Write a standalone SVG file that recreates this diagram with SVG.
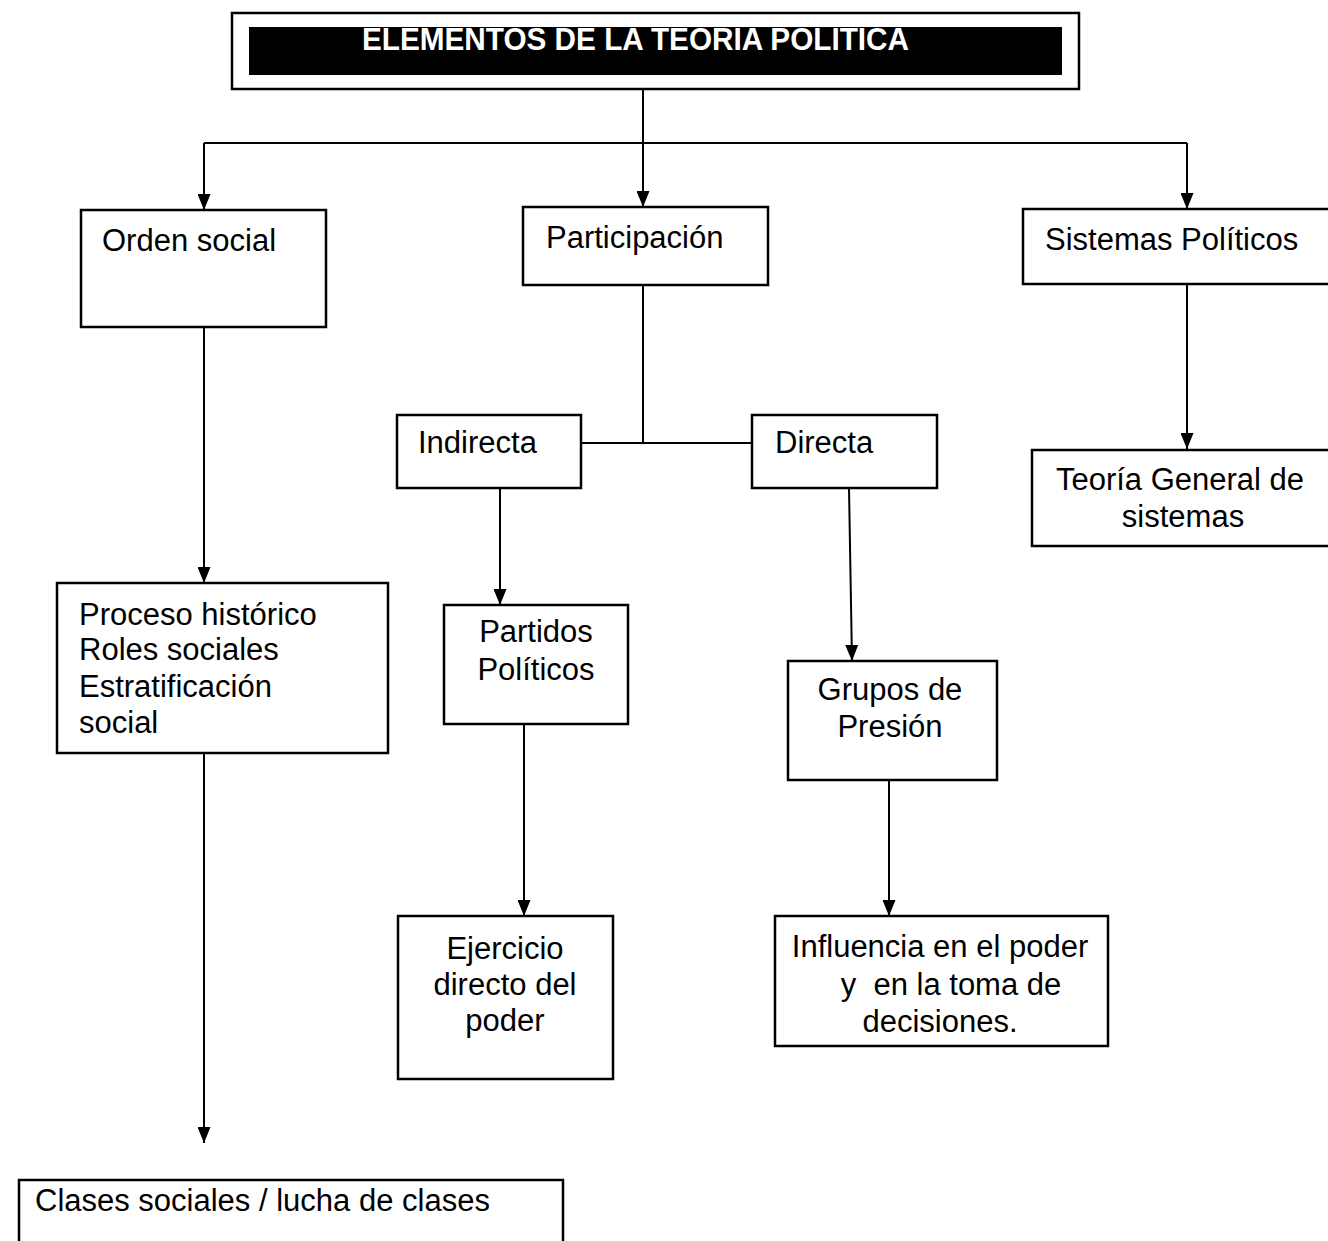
<svg xmlns="http://www.w3.org/2000/svg" width="1328" height="1241" viewBox="0 0 1328 1241">
<style>
.box{fill:#fff;stroke:#000;stroke-width:2.5}
.t{font-family:"Liberation Sans",Arial,sans-serif;font-size:31px;fill:#000}
.c{text-anchor:middle}
.ln{fill:none;stroke:#000;stroke-width:2}
</style>
<defs>
<marker id="ah" viewBox="0 0 16 13" refX="16" refY="6.5" markerWidth="16" markerHeight="13" markerUnits="userSpaceOnUse" orient="auto">
<path d="M0,0 L16,6.5 L0,13 z" fill="#000"/>
</marker>
</defs>
<rect width="1328" height="1241" fill="#fff"/>
<g id="connectors">
<path class="ln" d="M643,89 V143"/>
<path class="ln" d="M204,143 H1187"/>
<path class="ln" d="M204,143 V210" marker-end="url(#ah)"/>
<path class="ln" d="M643,143 V207" marker-end="url(#ah)"/>
<path class="ln" d="M1187,143 V209" marker-end="url(#ah)"/>
<path class="ln" d="M643,285 V443"/>
<path class="ln" d="M581,443 H752"/>
<path class="ln" d="M204,327 V583" marker-end="url(#ah)"/>
<path class="ln" d="M1187,284 V449" marker-end="url(#ah)"/>
<path class="ln" d="M500,488 V605" marker-end="url(#ah)"/>
<path class="ln" d="M849,488 L852,661" marker-end="url(#ah)"/>
<path class="ln" d="M524,724 V916" marker-end="url(#ah)"/>
<path class="ln" d="M889,780 V916" marker-end="url(#ah)"/>
<path class="ln" d="M204,753 V1143" marker-end="url(#ah)"/>
</g>
<g id="title">
<rect class="box" x="232" y="13" width="847" height="76"/>
<rect x="249" y="27" width="813" height="48" fill="#000"/>
<text x="362" y="50" font-family="'Liberation Sans Narrow','Liberation Sans',Arial,sans-serif" font-weight="bold" font-size="31" fill="#fff" textLength="547" lengthAdjust="spacingAndGlyphs">ELEMENTOS DE LA TEORIA POLITICA</text>
</g>
<g id="orden">
<rect class="box" x="81" y="210" width="245" height="117"/>
<text class="t" x="102" y="251">Orden social</text>
</g>
<g id="participacion">
<rect class="box" x="523" y="207" width="245" height="78"/>
<text class="t" x="546" y="248">Participación</text>
</g>
<g id="sistemas">
<rect class="box" x="1023" y="209" width="320" height="75"/>
<text class="t" x="1045" y="250">Sistemas Políticos</text>
</g>
<g id="teoria">
<rect class="box" x="1032" y="450" width="320" height="96"/>
<text class="t c" x="1180" y="490">Teoría General de</text>
<text class="t c" x="1183" y="527">sistemas</text>
</g>
<g id="indirecta">
<rect class="box" x="397" y="415" width="184" height="73"/>
<text class="t" x="418" y="453">Indirecta</text>
</g>
<g id="directa">
<rect class="box" x="752" y="415" width="185" height="73"/>
<text class="t" x="775" y="453">Directa</text>
</g>
<g id="proceso">
<rect class="box" x="57" y="583" width="331" height="170"/>
<text class="t" x="79" y="625">Proceso histórico</text>
<text class="t" x="79" y="660">Roles sociales</text>
<text class="t" x="79" y="697">Estratificación</text>
<text class="t" x="79" y="733">social</text>
</g>
<g id="partidos">
<rect class="box" x="444" y="605" width="184" height="119"/>
<text class="t c" x="536" y="642">Partidos</text>
<text class="t c" x="536" y="680">Políticos</text>
</g>
<g id="grupos">
<rect class="box" x="788" y="661" width="209" height="119"/>
<text class="t c" x="890" y="700">Grupos de</text>
<text class="t c" x="890" y="737">Presión</text>
</g>
<g id="ejercicio">
<rect class="box" x="398" y="916" width="215" height="163"/>
<text class="t c" x="505" y="959">Ejercicio</text>
<text class="t c" x="505" y="995">directo del</text>
<text class="t c" x="505" y="1031">poder</text>
</g>
<g id="influencia">
<rect class="box" x="775" y="916" width="333" height="130"/>
<text class="t c" x="940" y="957">Influencia en el poder</text>
<text class="t c" x="951" y="995" style="white-space:pre">y  en la toma de</text>
<text class="t c" x="940" y="1032">decisiones.</text>
</g>
<g id="clases">
<rect class="box" x="19" y="1180" width="544" height="80"/>
<text class="t" x="35" y="1211">Clases sociales / lucha de clases</text>
</g>
</svg>
